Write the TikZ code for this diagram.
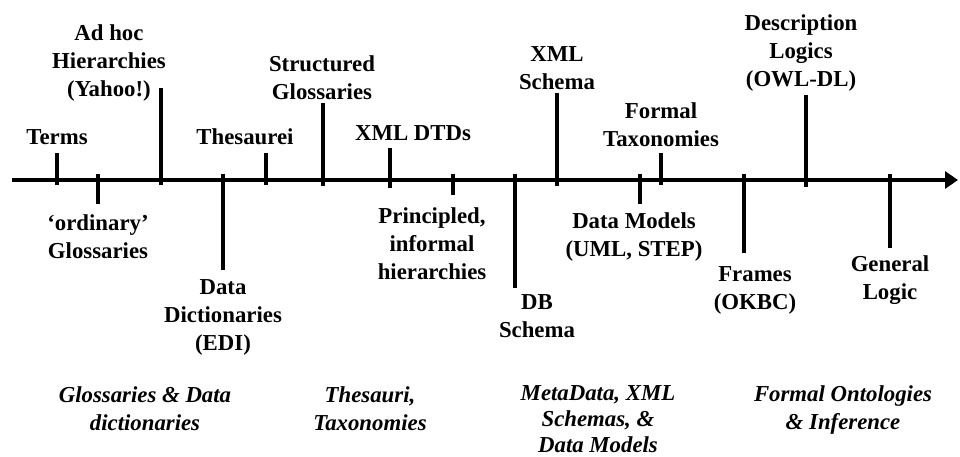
\documentclass[tikz,border=0pt]{standalone}
\usepackage{fontspec}
\setmainfont{Liberation Serif}
\usetikzlibrary{arrows.meta}
\begin{document}
\begin{tikzpicture}[x=1pt,y=-1pt,
  lbl/.style={font=\fontsize{22.8}{28}\selectfont\bfseries, align=center, inner sep=0pt},
  cat/.style={font=\fontsize{22.8}{28}\selectfont\bfseries\itshape, align=center, inner sep=0pt},
  tickline/.style={line width=3.3pt},
  axisline/.style={line width=4pt, -{Triangle[length=13pt,width=17pt]}}]
\useasboundingbox (0,0) rectangle (960,457);
% axis
\coordinate (axL) at (12,180);
\coordinate (axR) at (958,180);
% ticks
\foreach \n/\x/\a/\b in {terms/57/153/185, ordinary/98/174/204, adhoc/161/88/185,
  datadict/223/174/270, thes/266/153/185, struct/323/103/186, dtd/390/148/188,
  princ/453/174/195, db/515/174/288, xmls/557/93/186, datamod/640/174/204,
  formtax/661/153/185, frames/744/174/253, desc/806/95/187, genlog/890/174/248}{
  \coordinate (\n-a) at (\x,\a);
  \coordinate (\n-b) at (\x,\b);
  \draw[tickline] (\n-a) -- (\n-b);
}
\draw[axisline] (axL) -- (axR);
% labels above
\node[lbl] (lterms) at (57,137) {Terms};
\node[lbl] (ladhoc) at (109,63) {Ad hoc\\Hierarchies\\(Yahoo!)};
\node[lbl] (lthes) at (245,137) {Thesaurei};
\node[lbl] (lstruct) at (322,77.5) {Structured\\Glossaries};
\node[lbl] (ldtd) at (413,133) {XML DTDs};
\node[lbl] (lxmls) at (557,68.5) {XML\\Schema};
\node[lbl] (lformtax) at (661,124.5) {Formal\\Taxonomies};
\node[lbl] (ldesc) at (801,53) {Description\\Logics\\(OWL-DL)};
% labels below
\node[lbl] (lordinary) at (98,236.5) {`ordinary'\\Glossaries};
\node[lbl] (ldatadict) at (223,317) {Data\\Dictionaries\\(EDI)};
\node[lbl] (lprinc) at (432,243.5) {Principled,\\informal\\hierarchies};
\node[lbl] (ldb) at (537,316) {DB\\Schema};
\node[lbl] (ldatamod) at (634,237) {Data Models\\(UML, STEP)};
\node[lbl] (lframes) at (755,290) {Frames\\(OKBC)};
\node[lbl] (lgenlog) at (890,280) {General\\Logic};
% categories
\node[cat] (c1) at (145,409) {Glossaries \& Data\\dictionaries};
\node[cat] (c2) at (370,409) {Thesauri,\\Taxonomies};
\node[cat, font=\fontsize{22.8}{26}\selectfont\bfseries\itshape] (c3) at (598,419) {MetaData, XML\\Schemas, \&\\Data Models};
\node[cat] (c4) at (843,410.5) {Formal Ontologies\\\& Inference};
\end{tikzpicture}
\end{document}
